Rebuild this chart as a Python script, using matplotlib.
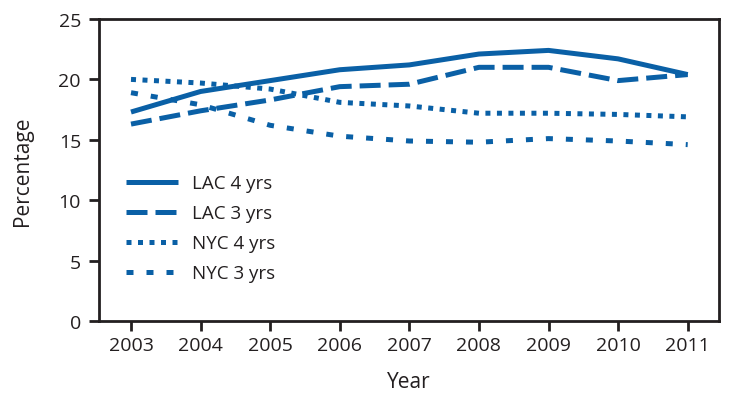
import matplotlib
matplotlib.use("Agg")
import matplotlib.pyplot as plt

years = [2003, 2004, 2005, 2006, 2007, 2008, 2009, 2010, 2011]
lac_4yrs = [17.3, 19.0, 19.9, 20.8, 21.2, 22.1, 22.4, 21.7, 20.4]
lac_3yrs = [16.3, 17.4, 18.3, 19.4, 19.6, 21.0, 21.0, 19.9, 20.4]
nyc_4yrs = [20.0, 19.7, 19.2, 18.1, 17.8, 17.2, 17.2, 17.1, 16.9]
nyc_3yrs = [18.9, 17.9, 16.2, 15.3, 14.9, 14.8, 15.1, 14.9, 14.6]
series_labels = ["LAC 4 yrs", "LAC 3 yrs", "NYC 4 yrs", "NYC 3 yrs"]
yticks = [0, 5, 10, 15, 20, 25]

plt.rcParams['font.family'] = ['Open Sans', 'DejaVu Sans']
color = "#0a60a6"
ink = '#231f20'
lw = 3.6

fig = plt.figure(figsize=(7.33, 4.02), dpi=100)
ax = fig.add_axes([99/733, 1 - 322/402, (719-99)/733, (322-20)/402])

ax.plot(years, lac_4yrs, color=color, lw=lw, solid_capstyle='butt', label=series_labels[0])
ax.plot(years, lac_3yrs, color=color, lw=lw, dashes=(4.2, 1.6), dash_capstyle='butt', label=series_labels[1])
ax.plot(years, nyc_4yrs, color=color, lw=lw, dashes=(1.0, 1.3), dash_capstyle='butt', label=series_labels[2])
ax.plot(years, nyc_3yrs, color=color, lw=lw, dashes=(1.4, 2.6), dash_capstyle='butt', label=series_labels[3])

ax.set_xlim(2002.54, 2011.45)
ax.set_ylim(0, 25)
ax.set_xticks(years)
ax.set_yticks(yticks)
ax.tick_params(labelsize=14, width=2, length=7, color=ink, labelcolor=ink)
ax.tick_params(axis='x', pad=4)
ax.tick_params(axis='y', pad=6)
for s in ax.spines.values():
    s.set_linewidth(2)
    s.set_color(ink)

ax.set_xlabel("Year", fontsize=15, color=ink, labelpad=12)
ax.set_ylabel("Percentage", fontsize=15, color=ink, labelpad=18)

leg = ax.legend(loc='upper left', bbox_to_anchor=(0.031, 0.51), frameon=False,
                fontsize=13.5, handlelength=2.8, handletextpad=0.75, labelspacing=0.64,
                borderaxespad=0)
for t in leg.get_texts():
    t.set_color(ink)

fig.savefig("out.png", dpi=100)
